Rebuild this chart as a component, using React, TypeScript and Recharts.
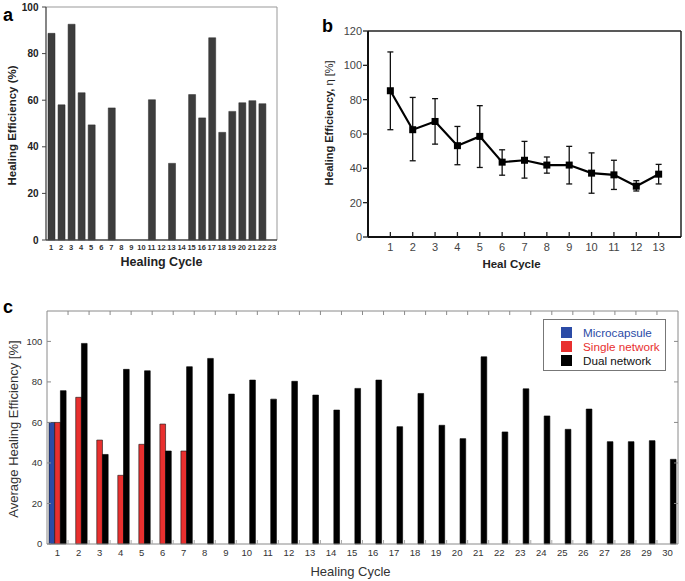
import { ComposedChart, Bar, Line, XAxis, YAxis, ErrorBar, Legend, Label } from "recharts";

const FONT = "'Liberation Sans', Arial, Helvetica, sans-serif";

// panel a: healing efficiency per cycle (empty cycles = no bar)
const cyclesA = ["1", "2", "3", "4", "5", "6", "7", "8", "9", "10", "11", "12", "13", "14", "15", "16", "17", "18", "19", "20", "21", "22", "23"];
const efficiencyA = [88.7, 58, 92.6, 63.2, 49.4, null, 56.7, null, null, null, 60.2, null, 32.9, null, 62.4, 52.4, 86.8, 46.2, 55.2, 58.9, 59.8, 58.5, null];
const ticksA = [0, 20, 40, 60, 80, 100];

// panel b: mean healing efficiency with error range
const cyclesB = [1, 2, 3, 4, 5, 6, 7, 8, 9, 10, 11, 12, 13];
const meanB = [85.2, 62.5, 67.3, 53.2, 58.6, 43.6, 44.7, 41.9, 41.9, 37.2, 36.2, 29.6, 36.6];
const upperB = [107.8, 81.3, 80.6, 64.4, 76.5, 50.8, 55.7, 46.6, 52.8, 49, 44.7, 32.8, 42.3];
const lowerB = [62.5, 44.4, 54.1, 42.1, 40.5, 36, 34.3, 37.2, 30.9, 25.5, 27.7, 26.8, 30.9];
const ticksB = [0, 20, 40, 60, 80, 100, 120];

// panel c: average healing efficiency by network type
const cyclesC = ["1", "2", "3", "4", "5", "6", "7", "8", "9", "10", "11", "12", "13", "14", "15", "16", "17", "18", "19", "20", "21", "22", "23", "24", "25", "26", "27", "28", "29", "30"];
const microcapsuleC = [60];
const singleNetworkC = [60, 72.4, 51.3, 33.9, 49.2, 59.2, 45.9];
const dualNetworkC = [75.7, 99, 44.2, 86.2, 85.5, 45.9, 87.5, 91.6, 74, 80.9, 71.5, 80.3, 73.5, 66.1, 76.8, 80.9, 57.9, 74.3, 58.6, 52, 92.4, 55.3, 76.6, 63.2, 56.6, 66.6, 50.5, 50.5, 51, 41.8];
const seriesC = ["Microcapsule", "Single network", "Dual network"];
const ticksC = [0, 20, 40, 60, 80, 100];

const dataA = cyclesA.map((c, i) => ({ cycle: c, value: efficiencyA[i] }));
const dataB = cyclesB.map((c, i) => ({
  cycle: c,
  mean: meanB[i],
  err: [meanB[i] - lowerB[i], upperB[i] - meanB[i]],
}));
const dataC = cyclesC.map((c, i) => ({
  cycle: c,
  pos: i + 1,
  micro: microcapsuleC[i] ?? null,
  single: singleNetworkC[i] ?? null,
  dual: dualNetworkC[i] ?? null,
}));
// minor ticks sit between the groups, labels on the group centres
const boundaryC = cyclesC.slice(1).map((_, i) => i + 1.5);
const labelTicksC = cyclesC.flatMap((_, i) => (i < cyclesC.length - 1 ? [i + 1, i + 1.5] : [i + 1]));

const vTitle = (text: any, dx: number, dy: number, style: any) => (props: any) => {
  const vb = props.viewBox;
  const x = vb.x + dx;
  const y = vb.y + vb.height / 2 + dy;
  return (
    <text x={x} y={y} transform={`rotate(-90 ${x} ${y})`} textAnchor="middle" dominantBaseline="central" style={style}>
      {text}
    </text>
  );
};

const hTitle = (text: any, dx: number, dy: number, style: any) => (props: any) => {
  const vb = props.viewBox;
  return (
    <text x={vb.x + vb.width / 2 + dx} y={vb.y + dy} textAnchor="middle" style={style}>
      {text}
    </text>
  );
};

const squareDot = (p: any) => (
  <rect key={`d${p.index}`} x={p.cx - 3.5} y={p.cy - 3.5} width={7} height={7} fill="#000" />
);

// invisible helper series so the frame axes (top / right) get drawn
const frameLine = (xId: string, yId: string, key: string) => (
  <Line
    xAxisId={xId}
    yAxisId={yId}
    dataKey={key}
    stroke="none"
    dot={false}
    activeDot={false}
    legendType="none"
    isAnimationActive={false}
  />
);

// integer ticks carry the cycle label, half ticks are short inward marks
const cycleTickC = (p: any) => {
  const v = p.payload.value;
  if (Number.isInteger(v)) {
    return (
      <text key={`l${v}`} x={p.x} y={p.y + 5.2} dy="0.71em" textAnchor="middle" fontSize={9.5} fill="#333" fontFamily={FONT}>
        {cyclesC[v - 1]}
      </text>
    );
  }
  return <line key={`m${v}`} x1={p.x} x2={p.x} y1={p.y} y2={p.y - 4} stroke="#aaa" strokeWidth={1} />;
};

const legendC = (props: any) => {
  const items = [...(props.payload || [])]
    .filter((e: any) => seriesC.includes(e.value))
    .sort((a: any, b: any) => seriesC.indexOf(a.value) - seriesC.indexOf(b.value));
  return (
    <div style={{ border: "1px solid #777", background: "#fff", width: 123, height: 52, paddingTop: 5, boxSizing: "border-box", fontFamily: FONT }}>
      {items.map((e: any) => (
        <div key={e.value} style={{ display: "flex", alignItems: "center", height: 14, fontSize: 11.7, color: e.color === "#000" ? "#111" : e.color }}>
          <span style={{ display: "inline-block", width: 11, height: 11, background: e.color, marginLeft: 17, marginRight: 11 }} />
          <span>{e.value}</span>
        </div>
      ))}
    </div>
  );
};

const PanelA = () => (
  <ComposedChart width={290} height={270} data={dataA} margin={{ top: 6, right: 12, bottom: 0, left: 0 }} barSize={7}>
    <XAxis xAxisId="top" dataKey="cycle" orientation="top" height={1} tick={false} tickLine={false} axisLine={{ stroke: "#999", strokeWidth: 1 }} />
    <YAxis yAxisId="right" orientation="right" width={1} domain={[0, 100]} tick={false} tickLine={false} axisLine={{ stroke: "#999", strokeWidth: 1 }} />
    <XAxis
      dataKey="cycle"
      height={30}
      interval={0}
      tickLine={false}
      tickSize={0}
      tickMargin={4.5}
      axisLine={{ stroke: "#444", strokeWidth: 1.3 }}
      tick={{ fontSize: 7.5, fontWeight: 700, fill: "#333", fontFamily: FONT }}
    >
      <Label content={hTitle("Healing Cycle", 0, 26, { fontSize: 12.5, fontWeight: 700, fill: "#222", fontFamily: FONT })} />
    </XAxis>
    <YAxis
      width={46}
      domain={[0, 100]}
      ticks={ticksA}
      tickSize={4}
      tickMargin={3.5}
      tickLine={{ stroke: "#444" }}
      axisLine={{ stroke: "#444", strokeWidth: 1.3 }}
      tick={{ fontSize: 10, fontWeight: 700, fill: "#222", fontFamily: FONT }}
    >
      <Label content={vTitle("Healing Efficiency (%)", 12, 2, { fontSize: 11.5, fontWeight: 700, fill: "#222", fontFamily: FONT })} />
    </YAxis>
    <Bar dataKey="value" fill="#3d3d3d" stroke="#2a2a2a" strokeWidth={0.5} isAnimationActive={false} />
    {frameLine("top", "right", "value")}
  </ComposedChart>
);

const PanelB = () => (
  <ComposedChart width={385} height={270} data={dataB} margin={{ top: 30, right: 3, bottom: 0, left: 0 }}>
    <XAxis xAxisId="top" orientation="top" type="number" dataKey="cycle" domain={[0, 14]} height={1} tick={false} tickLine={false} axisLine={{ stroke: "#222", strokeWidth: 1.5 }} />
    <YAxis yAxisId="right" orientation="right" width={1} domain={[0, 120]} tick={false} tickLine={false} axisLine={{ stroke: "#222", strokeWidth: 1.5 }} />
    <XAxis
      dataKey="cycle"
      type="number"
      domain={[0, 14]}
      ticks={cyclesB}
      height={33}
      tickSize={-5}
      tickMargin={10.8}
      tickLine={{ stroke: "#222", strokeWidth: 1.3 }}
      axisLine={{ stroke: "#111", strokeWidth: 2 }}
      tick={{ fontSize: 11, fill: "#444", fontFamily: FONT }}
    >
      <Label content={hTitle("Heal Cycle", -13, 31, { fontSize: 11.5, fontWeight: 700, fill: "#222", fontFamily: FONT })} />
    </XAxis>
    <YAxis
      width={68}
      domain={[0, 120]}
      ticks={ticksB}
      tickSize={5}
      tickMargin={1}
      tickLine={{ stroke: "#222", strokeWidth: 1.3 }}
      axisLine={{ stroke: "#111", strokeWidth: 2 }}
      tick={{ fontSize: 11, fill: "#444", fontFamily: FONT }}
    >
      <Label
        content={vTitle(
          <>
            <tspan fontWeight={700}>Healing Efficiency, </tspan>
            <tspan>η [%]</tspan>
          </>,
          29,
          -11,
          { fontSize: 11, fill: "#222", fontFamily: FONT }
        )}
      />
    </YAxis>
    <Line dataKey="mean" stroke="#000" strokeWidth={2.2} dot={squareDot} activeDot={false} isAnimationActive={false}>
      <ErrorBar dataKey="err" direction="y" width={3} stroke="#111" strokeWidth={1.3} isAnimationActive={false} />
    </Line>
    {frameLine("top", "right", "mean")}
  </ComposedChart>
);

const axisGray = { stroke: "#8a8a8a", strokeWidth: 1 };

const PanelC = () => (
  <ComposedChart width={685} height={301} data={dataC} margin={{ top: 30, right: 6, bottom: 0, left: 0 }} barSize={5.7} barGap={0}>
    <XAxis
      xAxisId="top"
      orientation="top"
      type="number"
      dataKey="pos"
      domain={[0.5, 30.5]}
      allowDataOverflow
      ticks={boundaryC}
      height={1}
      tickSize={-4}
      tickFormatter={() => ""}
      tickLine={axisGray}
      axisLine={axisGray}
    />
    <XAxis xAxisId="cat" dataKey="cycle" height={0} hide />
    <XAxis
      xAxisId="lab"
      type="number"
      dataKey="pos"
      domain={[0.5, 30.5]}
      allowDataOverflow
      ticks={labelTicksC}
      interval={0}
      height={37}
      tickSize={0}
      tickMargin={0}
      tickLine={false}
      axisLine={axisGray}
      tick={cycleTickC}
    >
      <Label content={hTitle("Healing Cycle", -12, 31.5, { fontSize: 13, fill: "#333", fontFamily: FONT })} />
    </XAxis>
    <YAxis
      yAxisId="right"
      orientation="right"
      width={1}
      domain={[0, 115]}
      ticks={[20, 40, 60, 80, 100]}
      tickSize={-4}
      tickFormatter={() => ""}
      tickLine={axisGray}
      axisLine={axisGray}
    />
    <YAxis
      width={47}
      domain={[0, 115]}
      ticks={ticksC}
      tickSize={-4}
      tickMargin={8.7}
      tickLine={axisGray}
      axisLine={axisGray}
      tick={{ fontSize: 9.5, fill: "#333", fontFamily: FONT }}
    >
      <Label content={vTitle("Average Healing Efficiency [%]", 13, 1.5, { fontSize: 13, fill: "#333", fontFamily: FONT })} />
    </YAxis>
    <Legend
      layout="vertical"
      align="center"
      verticalAlign="middle"
      content={legendC}
      wrapperStyle={{ left: 543, top: 39, width: 123, height: 52 }}
    />
    <Bar xAxisId="cat" dataKey="micro" name="Microcapsule" fill="#2b4ba6" stroke="#111" strokeWidth={0.6} isAnimationActive={false} />
    <Bar xAxisId="cat" dataKey="single" name="Single network" fill="#e8302f" stroke="#111" strokeWidth={0.6} isAnimationActive={false} />
    <Bar xAxisId="cat" dataKey="dual" name="Dual network" fill="#000" stroke="#000" strokeWidth={0.6} isAnimationActive={false} />
    {frameLine("top", "right", "dual")}
    {frameLine("lab", "right", "dual")}
  </ComposedChart>
);

export default function App() {
  return (
    <div style={{ position: "relative", width: 685, height: 581, background: "#fff", fontFamily: FONT }}>
      <style>{`body{margin:0}`}</style>
      <div style={{ position: "absolute", left: 0, top: 0 }}>
        <PanelA />
      </div>
      <div style={{ position: "absolute", left: 300, top: 0 }}>
        <PanelB />
      </div>
      <div style={{ position: "absolute", left: 0, top: 280 }}>
        <PanelC />
      </div>
      <svg width={685} height={581} style={{ position: "absolute", left: 0, top: 0, pointerEvents: "none" }}>
        <text x={3} y={21} fontSize={18} fontWeight={700} fontFamily={FONT} fill="#000">a</text>
        <text x={322} y={32} fontSize={18} fontWeight={700} fontFamily={FONT} fill="#000">b</text>
        <text x={3} y={313} fontSize={18} fontWeight={700} fontFamily={FONT} fill="#000">c</text>
      </svg>
    </div>
  );
}
